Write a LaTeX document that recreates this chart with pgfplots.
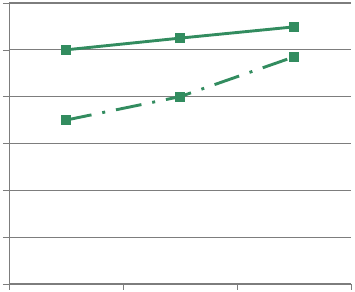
\documentclass[border=0pt]{standalone}
\usepackage{pgfplots}
\pgfplotsset{compat=1.18}
\usetikzlibrary{calc}
\definecolor{sg}{RGB}{50,140,95}
\definecolor{gl}{RGB}{125,125,125}
\begin{document}
\begin{tikzpicture}
\begin{axis}[
  scale only axis, width=342pt, height=281pt,
  xmin=0, xmax=3, ymin=0, ymax=6,
  axis lines=left, axis line style={-, gl, line width=0.8pt},
  xtick={0,1,2,3}, ytick={0,1,2,3,4,5,6},
  xticklabels={}, yticklabels={},
  tick style={gl, line width=0.6pt},
  xtick align=outside, ytick align=outside,
  major tick length=6pt,
  ymajorgrids, grid style={gl, line width=1.3pt},
  clip=false,
]
\addplot[sg, line width=2.9pt, mark=square*, mark size=3.4pt, mark options={solid}]
  coordinates {(0.5,5.0) (1.5,5.25) (2.5,5.49)};
\addplot[sg, line width=2.9pt, dash pattern=on 26pt off 11pt on 3pt off 11pt, mark=square*, mark size=3.4pt, mark options={solid}]
  coordinates {(0.5,3.5) (1.5,4.0) (2.5,4.85)};
\end{axis}
\pgfresetboundingbox
\path ($(current axis.south west)+(-9pt,-8pt)$) rectangle ($(current axis.north east)+(4pt,3pt)$);
\end{tikzpicture}
\end{document}
